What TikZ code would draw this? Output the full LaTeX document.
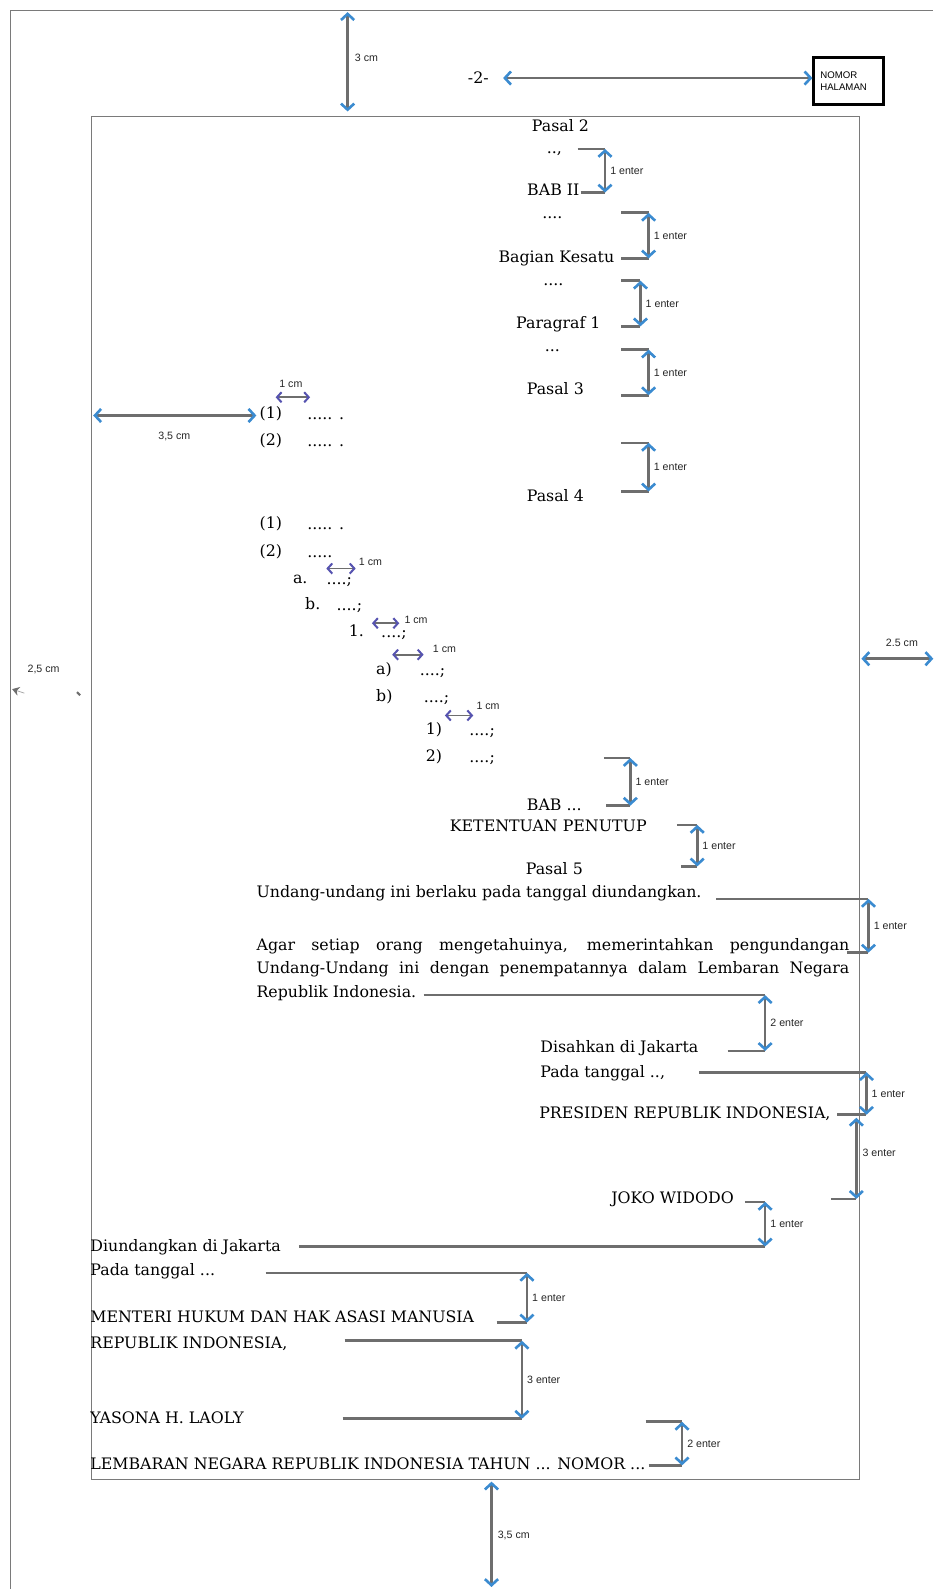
\documentclass[tikz,border=0pt]{standalone}
\usepackage{fontspec}
\setmainfont{DejaVu Serif}
\newfontfamily\lblfont{Liberation Sans}
\usetikzlibrary{arrows.meta,calc}
\definecolor{shaft}{HTML}{6E6E6E}
\definecolor{tipblue}{HTML}{3B8BD0}
\definecolor{frame}{HTML}{7A7A7A}

% vertical spacing bracket with a double arrow and its label
\newcommand\enterbr[7]{%
  \coordinate (#1-tl) at (#2,#4);
  \coordinate (#1-tr) at (#3,#4);
  \coordinate (#1-bl) at (#5,#6);
  \coordinate (#1-br) at (#3,#6);
  \draw[brk] (#1-tl) -- (#1-tr);
  \draw[brk] (#1-bl) -- (#1-br);
  \draw[dimarr] (#1-tr) -- (#1-br);
  \node[lbl, anchor=west] (#1-lab) at ($(#1-tr)!.5!(#1-br)+(5,0)$) {#7};
}

\begin{document}
\begin{tikzpicture}[x=1pt,y=-1pt,
  txt/.style={inner sep=0pt, font=\fontsize{15.6}{18}\selectfont},
  lbl/.style={inner sep=0pt, font=\lblfont\fontsize{10.5}{12}\selectfont, text=black!85},
  brk/.style={draw=shaft, line width=2.6pt},
  dimarr/.style={draw=shaft, line width=2.6pt,
    {Straight Barb[length=6pt,width=13pt,line width=2.6pt,color=tipblue]}-{Straight Barb[length=6pt,width=13pt,line width=2.6pt,color=tipblue]}},
  smallarr/.style={draw=shaft, line width=1.8pt,
    {Straight Barb[length=4.5pt,width=10pt,line width=2pt,color=tipblue!60!violet]}-{Straight Barb[length=4.5pt,width=10pt,line width=2pt,color=tipblue!60!violet]}},
  pageline/.style={draw=frame, line width=1.1pt},
  mid/.style={txt, anchor=mid},
  lft/.style={txt, anchor=mid west}]

\useasboundingbox (0,0) rectangle (921,1568);

% sheet edge and text area
\coordinate (sheetBL) at (10,1568);
\coordinate (sheetTL) at (10,10);
\coordinate (sheetTR) at (921,10);
\draw[pageline] (sheetBL) -- (sheetTL) -- (sheetTR);
\draw[pageline, line width=.9pt] (90,115) rectangle (848,1460);

% top margin and page number
\coordinate (topA) at (343,12);
\coordinate (topB) at (343,110);
\draw[dimarr] (topA) -- (topB);
\node[lbl, anchor=west] (topcm) at (350,57) {3 cm};
\node[txt] (pnum) at (472,77) {-2-};
\node[draw=black, line width=2.6pt, minimum width=69pt, minimum height=46pt,
      text width=56pt, inner xsep=6.5pt, align=left, inner ysep=0pt,
      font=\lblfont\fontsize{9.5}{12}\selectfont] (nomor) at (837.5,80) {NOMOR\\HALAMAN};
\draw[dimarr] ([xshift=14pt]pnum.east) -- (pnum.east -| nomor.west);

% headings column
\node[mid] (pasal2) at (553,127) {Pasal 2};
\node[mid] (d1) at (547,149) {..,};
\node[mid] (bab2) at (546,190) {BAB II};
\node[mid] (d2) at (545,213) {....};
\node[mid] (bagian) at (549,256) {Bagian Kesatu};
\node[mid] (d3) at (546,279) {....};
\node[mid] (paragraf) at (551,322) {Paragraf 1};
\node[mid] (d4) at (545,344) {...};
\node[mid] (pasal3) at (548,387) {Pasal 3};
\node[mid] (pasal4) at (548,492) {Pasal 4};

\enterbr{ba}{570}{597}{147}{573}{190}{1 enter}
\enterbr{bb}{613}{640}{210}{613}{255}{1 enter}
\enterbr{bc}{613}{632}{277}{613}{322}{1 enter}
\enterbr{bd}{613}{640}{345}{613}{390}{1 enter}
\enterbr{be}{613}{640}{437}{613}{485}{1 enter}

% left indent and list levels
\coordinate (indA) at (92,410);
\coordinate (indB) at (253,410);
\draw[dimarr] (indA) -- (indB);
\node[lbl] (indlab) at (172,431) {3,5 cm};

\node[lft] (n1) at (256,410) {(1)};
\node[lft] (t1) at (303,411) {..... .};
\node[lft] (n2) at (256,437) {(2)};
\node[lft] (t2) at (303,438) {..... .};
\node[lft] (n3) at (256,519) {(1)};
\node[lft] (t3) at (303,520) {..... .};
\node[lft] (n4) at (256,547) {(2)};
\node[lft] (t4) at (303,548) {.....};
\node[lft] (la) at (289,573) {a.};
\node[lft] (ta) at (322,574) {....;};
\node[lft] (lb) at (301,599) {b.};
\node[lft] (tb) at (332,600) {....;};
\node[lft] (l1) at (344,625) {1.};
\node[lft] (t1b) at (376,626) {....;};
\node[lft] (lqa) at (371,663) {a)};
\node[lft] (tqa) at (414,664) {....;};
\node[lft] (lqb) at (371,690) {b)};
\node[lft] (tqb) at (418,691) {....;};
\node[lft] (lr1) at (420,722) {1)};
\node[lft] (tr1) at (463,723) {....;};
\node[lft] (lr2) at (420,749) {2)};
\node[lft] (tr2) at (463,750) {....;};

% one-centimetre tab marks
\coordinate (c1a) at (272,392); \coordinate (c1b) at (306,392);
\draw[smallarr] (c1a) -- (c1b);
\node[lbl] (c1l) at (287,379) {1 cm};
\coordinate (c2a) at (322,561); \coordinate (c2b) at (351,561);
\draw[smallarr] (c2a) -- (c2b);
\node[lbl, anchor=west] (c2l) at (354,554) {1 cm};
\coordinate (c3a) at (367,615); \coordinate (c3b) at (394,615);
\draw[smallarr] (c3a) -- (c3b);
\node[lbl, anchor=west] (c3l) at (399,612) {1 cm};
\coordinate (c4a) at (387,646); \coordinate (c4b) at (418,646);
\draw[smallarr] (c4a) -- (c4b);
\node[lbl, anchor=west] (c4l) at (427,640) {1 cm};
\coordinate (c5a) at (439,706); \coordinate (c5b) at (467,706);
\draw[smallarr] (c5a) -- (c5b);
\node[lbl, anchor=west] (c5l) at (470,697) {1 cm};

% side margins
\coordinate (rmA) at (850,650);
\coordinate (rmB) at (921,650);
\draw[dimarr] (rmA) -- (rmB);
\node[lbl] (rmlab) at (890,634) {2.5 cm};
\node[lbl] (lmlab) at (43,661) {2,5 cm};
\coordinate (lmA) at (12,680);
\coordinate (lmB) at (24,684);
\draw[draw=shaft!60, line width=.8pt, -{Stealth[length=7pt,width=9pt,color=shaft]}] (lmB) -- (lmA);
\coordinate (lmC) at (76,683);
\coordinate (lmD) at (79,686);
\draw[draw=shaft, line width=2pt] (lmC) -- (lmD);

% closing chapter
\enterbr{bf}{596}{622}{748}{598}{795}{1 enter}
\node[mid] (babx) at (547,797) {BAB ...};
\node[mid] (ketentuan) at (541,818) {KETENTUAN PENUTUP};
\enterbr{bg}{668}{688}{814}{672}{855}{1 enter}
\node[mid] (pasal5) at (547,860) {Pasal 5};

\node[lft] (berlaku) at (253,883) {Undang-undang ini berlaku pada tanggal diundangkan.};
\enterbr{bh}{707}{857}{887}{836}{940}{1 enter}
\node[lft] (agar1) at (253,935) {\makebox[585pt][s]{Agar setiap orang mengetahuinya, memerintahkan pengundangan}};
\node[lft] (agar2) at (253,958) {\makebox[585pt][s]{Undang-Undang ini dengan penempatannya dalam Lembaran Negara}};
\node[lft] (agar3) at (253,982) {Republik Indonesia.};
\enterbr{bi}{418}{755}{982}{718}{1037}{2 enter}

% signature block
\node[lft] (disahkan) at (533,1036) {Disahkan di Jakarta};
\node[lft] (pada1) at (533,1061) {Pada tanggal ..,};
\enterbr{bj}{690}{855}{1058}{826}{1100}{1 enter}
\node[lft] (presiden) at (532,1101) {PRESIDEN REPUBLIK INDONESIA,};
\coordinate (bk-t) at (845,1103);
\coordinate (bk-b) at (845,1183);
\coordinate (bk-bl) at (820,1183);
\draw[brk] (bk-bl) -- (bk-b);
\draw[dimarr] (bk-t) -- (bk-b);
\node[lbl, anchor=west] (bk-lab) at (851,1138) {3 enter};
\node[lft] (joko) at (603,1185) {JOKO WIDODO};
\enterbr{bl}{735}{755}{1186}{295}{1230}{1 enter}

% promulgation block
\node[lft] (diundangkan) at (89,1232) {Diundangkan di Jakarta};
\node[lft] (pada2) at (89,1256) {Pada tanggal ...};
\enterbr{bm}{262}{520}{1256}{490}{1305}{1 enter}
\node[lft] (menteri) at (89,1302) {MENTERI HUKUM DAN HAK ASASI MANUSIA};
\node[lft] (ri) at (89,1328) {REPUBLIK INDONESIA,};
\enterbr{bn}{340}{515}{1323}{338}{1400}{3 enter}
\node[lft] (yasona) at (89,1402) {YASONA H. LAOLY};
\enterbr{bo}{637}{673}{1403}{640}{1446}{2 enter}
\node[lft] (lembaran) at (89,1447) {LEMBARAN NEGARA REPUBLIK INDONESIA TAHUN ... NOMOR ...};

% bottom margin
\coordinate (botA) at (485,1462);
\coordinate (botB) at (485,1566);
\draw[dimarr] (botA) -- (botB);
\node[lbl, anchor=west] (botlab) at (491,1515) {3,5 cm};

\end{tikzpicture}
\end{document}
